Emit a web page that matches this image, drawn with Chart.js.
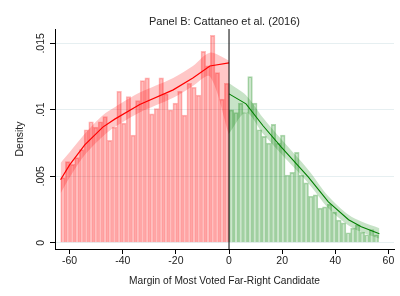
<!DOCTYPE html>
<html><head><meta charset="utf-8">
<script src="https://cdn.jsdelivr.net/npm/chart.js@4.4.1/dist/chart.umd.min.js"></script>
<style>html,body{margin:0;padding:0;background:#fff}#wrap{width:400px;height:296px}</style>
</head><body><div id="wrap"><canvas id="c" width="400" height="296"></canvas></div>
<script>
// ---- data ----
const redBinCenters = [-62.48,-60.72,-58.96,-57.20,-55.44,-53.68,-51.92,-50.16,-48.40,-46.64,-44.88,-43.12,-41.36,-39.60,-37.84,-36.08,-34.32,-32.56,-30.80,-29.04,-27.28,-25.52,-23.76,-22.00,-20.24,-18.48,-16.72,-14.96,-13.20,-11.44,-9.68,-7.92,-6.16,-4.40,-2.64,-0.88];
const redDensity = [0.0049,0.0061,0.0059,0.0064,0.0070,0.0085,0.0091,0.0087,0.0091,0.0095,0.0077,0.0087,0.0114,0.0090,0.0110,0.0081,0.0107,0.0122,0.0124,0.0097,0.0101,0.0124,0.0112,0.0100,0.0105,0.0114,0.0096,0.0120,0.0117,0.0111,0.0144,0.0133,0.0156,0.0128,0.0108,0.0120];
const greenBinCenters = [0.88,2.64,4.40,6.16,7.92,9.68,11.44,13.20,14.96,16.72,18.48,20.24,22.00,23.76,25.52,27.28,29.04,30.80,32.56,34.32,36.08,37.84,39.60,41.36,43.12,44.88,46.64,48.40,50.16,51.92,53.68,55.44];
const greenDensity = [0.0100,0.0098,0.0105,0.0098,0.0125,0.0105,0.0085,0.0080,0.0075,0.0089,0.0075,0.0081,0.0051,0.0053,0.0068,0.0051,0.0045,0.0035,0.0036,0.0026,0.0027,0.0029,0.0023,0.0017,0.0015,0.00075,0.0011,0.00135,0.0008,0.0006,0.0010,0.0006];

const redFitX  = [-63.4,-60,-54.3,-47.5,-43,-33.6,-21,-13.6,-7.2,0];
const redFit   = [0.00474,0.00586,0.00737,0.00870,0.00930,0.01040,0.01150,0.01240,0.01330,0.01353];
const redUpper = [0.0060,0.0068,0.0082,0.0096,0.0102,0.0113,0.0124,0.0133,0.0143,0.0137];
const redLower = [0.0037,0.0049,0.0066,0.0080,0.0087,0.0098,0.0109,0.0118,0.0125,0.0081];

const greenFitX  = [0,6.4,12.8,19.6,29.8,37.4,45,49.8,56.6];
const greenFit   = [0.0112,0.01045,0.0088,0.00722,0.00496,0.00308,0.00173,0.0012,0.00068];
const greenUpper = [0.0120,0.0111,0.0094,0.0078,0.0055,0.0035,0.0021,0.0016,0.0011];
const greenLower = [0.0082,0.0098,0.0082,0.0067,0.0045,0.0026,0.0013,0.0008,0.0003];

const cutoff = 0;
const xTicks = [-60,-40,-20,0,20,40,60];
const xTickLabels = ["-60","-40","-20","0","20","40","60"];
const yTicks = [0,0.005,0.01,0.015];
const yTickLabels = ["0",".005",".01",".015"];
const xMin = -65.5, xMax = 62.1, yMin = -0.00047, yMax = 0.01608;
const titleText = "Panel B: Cattaneo et al. (2016)";
const xTitle = "Margin of Most Voted Far-Right Candidate";
const yTitle = "Density";

// ---- build ----
const FONT = '"Liberation Sans", Arial, sans-serif';
const TXT = '#222';
const pts = (xs, ys) => xs.map((x, i) => ({x, y: ys[i]}));

const extras = {
  id: 'extras',
  afterDraw(chart) {
    const ctx = chart.ctx, s = chart.scales.y, a = chart.chartArea;
    ctx.save();
    ctx.fillStyle = TXT;
    ctx.font = '10.5px ' + FONT;
    ctx.textAlign = 'center';
    ctx.textBaseline = 'middle';
    yTicks.forEach((v, i) => {
      ctx.save();
      ctx.translate(s.right - 13.5, s.getPixelForValue(v));
      ctx.rotate(-Math.PI / 2);
      ctx.fillText(yTickLabels[i], 0, 0);
      ctx.restore();
    });
    ctx.font = '11px ' + FONT;
    ctx.fillText(titleText, (a.left + a.right) / 2, 21.5);
    ctx.restore();
  }
};

new Chart(document.getElementById('c'), {
  type: 'bar',
  data: {
    datasets: [
      {type: 'line', data: [{x: cutoff, y: yMin}, {x: cutoff, y: yMax}], borderColor: '#000', borderWidth: 1, pointRadius: 0, order: 0},
      {type: 'line', data: pts(redFitX, redFit), borderColor: '#ff0000', borderWidth: 1.2, pointRadius: 0, tension: 0, order: 1},
      {type: 'line', data: pts(greenFitX, greenFit), borderColor: '#008000', borderWidth: 1.1, pointRadius: 0, tension: 0, order: 1},
      {type: 'line', data: pts(redFitX, redUpper), borderColor: 'rgba(0,0,0,0)', borderWidth: 0, pointRadius: 0, tension: 0.3, order: 3},
      {type: 'line', data: pts(redFitX, redLower), borderColor: 'rgba(0,0,0,0)', borderWidth: 0, pointRadius: 0, tension: 0.3, fill: '-1', backgroundColor: 'rgba(255,0,0,0.22)', order: 3},
      {type: 'line', data: pts(greenFitX, greenUpper), borderColor: 'rgba(0,0,0,0)', borderWidth: 0, pointRadius: 0, tension: 0.3, order: 3},
      {type: 'line', data: pts(greenFitX, greenLower), borderColor: 'rgba(0,0,0,0)', borderWidth: 0, pointRadius: 0, tension: 0.3, fill: '-1', backgroundColor: 'rgba(0,128,0,0.22)', order: 3},
      {type: 'bar', data: pts(redBinCenters, redDensity), backgroundColor: 'rgba(255,0,0,0.25)', borderColor: 'rgba(255,0,0,0.28)', borderWidth: 1, barPercentage: 1, categoryPercentage: 1, grouped: false, order: 5},
      {type: 'bar', data: pts(greenBinCenters, greenDensity), backgroundColor: 'rgba(0,128,0,0.2)', borderColor: 'rgba(0,128,0,0.3)', borderWidth: 1, barPercentage: 1, categoryPercentage: 1, grouped: false, order: 5}
    ]
  },
  options: {
    responsive: false,
    animation: false,
    devicePixelRatio: 1,
    layout: {padding: {top: 29, right: 6, bottom: 0, left: 0}},
    plugins: {legend: {display: false}, tooltip: {enabled: false}, title: {display: false}},
    scales: {
      x: {
        type: 'linear', min: xMin, max: xMax, offset: false,
        afterBuildTicks: s => { s.ticks = xTicks.map(v => ({value: v})); },
        afterFit: s => { s.height = 47; },
        grid: {offset: false, drawOnChartArea: false, drawTicks: true, tickLength: 5, color: '#000', tickColor: '#000'},
        border: {display: true, color: '#000', width: 1},
        ticks: {color: TXT, font: {family: FONT, size: 10.5}, padding: 1, maxRotation: 0, autoSkip: false,
                callback: (v, i) => xTickLabels[i]},
        title: {display: true, text: xTitle, color: TXT, font: {family: FONT, size: 10.2}, padding: {top: 0, bottom: 9}}
      },
      y: {
        type: 'linear', min: yMin, max: yMax,
        afterBuildTicks: s => { s.ticks = yTicks.map(v => ({value: v})); },
        afterFit: s => { s.width = 55; },
        grid: {drawOnChartArea: true, drawTicks: true, tickLength: 5, color: '#e6eff1', tickColor: '#000'},
        border: {display: true, color: '#000', width: 1},
        ticks: {display: false},
        title: {display: true, text: yTitle, color: TXT, font: {family: FONT, size: 10.5}, padding: {top: 14, bottom: 0}}
      }
    }
  },
  plugins: [extras]
});
</script></body></html>
